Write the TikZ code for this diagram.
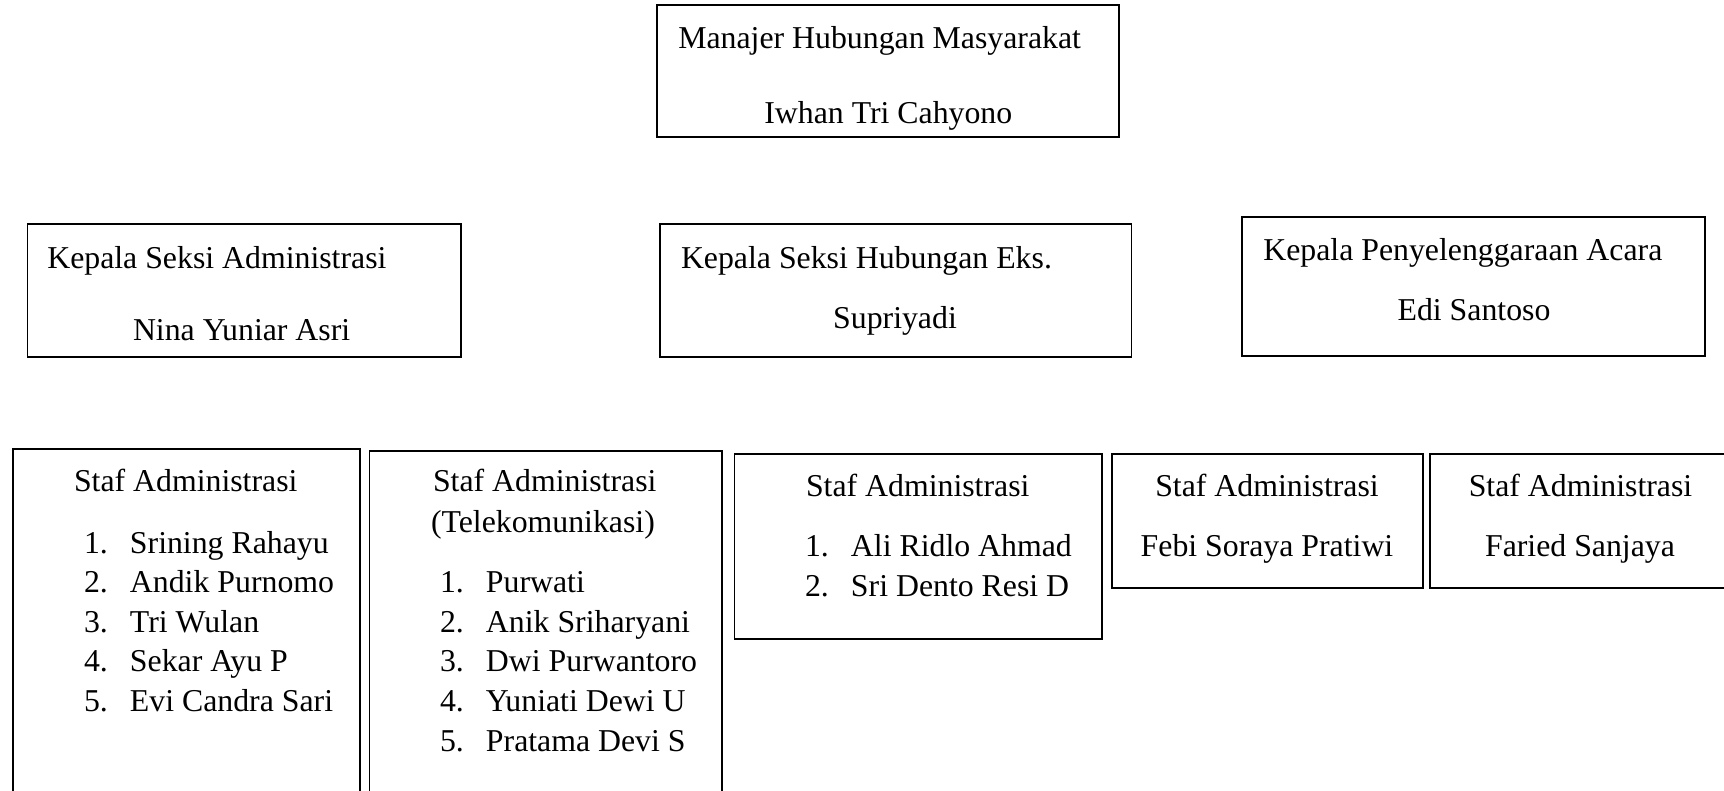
\documentclass[tikz,border=0pt]{standalone}
\usepackage{fontspec}
\setmainfont{Liberation Serif}
\newcommand{\itm}[2]{\makebox[46pt][l]{#1}#2}
\begin{document}
\begin{tikzpicture}[x=1pt,y=-1pt]
\tikzset{
  box/.style={draw, line width=1.8pt, inner sep=0pt, outer sep=0pt},
  txt/.style={inner sep=0pt, outer sep=0pt, font=\fontsize{31.8}{39}\selectfont},
  lt/.style={txt, anchor=base west},
  ct/.style={txt, anchor=base},
}
\useasboundingbox (0,0) rectangle (1724,790);
\clip (0,0) rectangle (1724,790);
\fill[white] (0,0) rectangle (1724,790);

% boxes
\node[box, minimum width=462.3pt, minimum height=132.3pt] (mgr) at (887.85,71.15) {};
\node[box, minimum width=433.2pt, minimum height=133pt] (ksa) at (244.1,290.5) {};
\node[box, minimum width=471.4pt, minimum height=133pt] (khe) at (895.7,290.5) {};
\node[box, minimum width=463.3pt, minimum height=139pt] (kpa) at (1473.35,286.2) {};
\node[box, minimum width=346.7pt, minimum height=350.7pt] (s1) at (186.65,624.65) {};
\node[box, minimum width=352.3pt, minimum height=349.3pt] (s2) at (545.55,625.35) {};
\node[box, minimum width=367.6pt, minimum height=184.7pt] (s3) at (918.2,546.65) {};
\node[box, minimum width=311.6pt, minimum height=134pt] (s4) at (1267.5,521.3) {};
\node[box, minimum width=310pt, minimum height=134pt] (s5) at (1585,521.3) {};

% top
\node[lt] (mgrA) at (678.3,48) {Manajer Hubungan Masyarakat};
\node[ct] (mgrB) at (888.3,123.5) {Iwhan Tri Cahyono};

% second row
\node[lt] (ksaA) at (47.3,268) {Kepala Seksi Administrasi};
\node[lt] (ksaB) at (133,340.5) {Nina Yuniar Asri};
\node[lt] (kheA) at (681,268) {Kepala Seksi Hubungan Eks.};
\node[ct] (kheB) at (895,328.5) {Supriyadi};
\node[lt] (kpaA) at (1263.3,260.5) {Kepala Penyelenggaraan Acara};
\node[ct] (kpaB) at (1474,320.5) {Edi Santoso};

% staf 1
\node[lt] (s1T) at (74,491.5) {Staf Administrasi};
\node[lt] (s1a) at (84,553) {\itm{1.}{Srining Rahayu}};
\node[lt] (s1b) at (84,592.5) {\itm{2.}{Andik Purnomo}};
\node[lt] (s1c) at (84,632) {\itm{3.}{Tri Wulan}};
\node[lt] (s1d) at (84,671.7) {\itm{4.}{Sekar Ayu P}};
\node[lt] (s1e) at (84,711.3) {\itm{5.}{Evi Candra Sari}};

% staf 2
\node[lt] (s2T) at (433,491.5) {Staf Administrasi};
\node[lt] (s2U) at (431,532) {(Telekomunikasi)};
\node[lt] (s2a) at (440,592.5) {\itm{1.}{Purwati}};
\node[lt] (s2b) at (440,632) {\itm{2.}{Anik Sriharyani}};
\node[lt] (s2c) at (440,671.7) {\itm{3.}{Dwi Purwantoro}};
\node[lt] (s2d) at (440,711.3) {\itm{4.}{Yuniati Dewi U}};
\node[lt] (s2e) at (440,751) {\itm{5.}{Pratama Devi S}};

% staf 3
\node[lt] (s3T) at (806,496) {Staf Administrasi};
\node[lt] (s3a) at (805,556.5) {\itm{1.}{Ali Ridlo Ahmad}};
\node[lt] (s3b) at (805,596) {\itm{2.}{Sri Dento Resi D}};

% staf 4
\node[ct] (s4T) at (1267,496) {Staf Administrasi};
\node[ct] (s4a) at (1267,556) {Febi Soraya Pratiwi};

% staf 5
\node[ct] (s5T) at (1580.5,496) {Staf Administrasi};
\node[ct] (s5a) at (1580,556) {Faried Sanjaya};
\end{tikzpicture}
\end{document}
